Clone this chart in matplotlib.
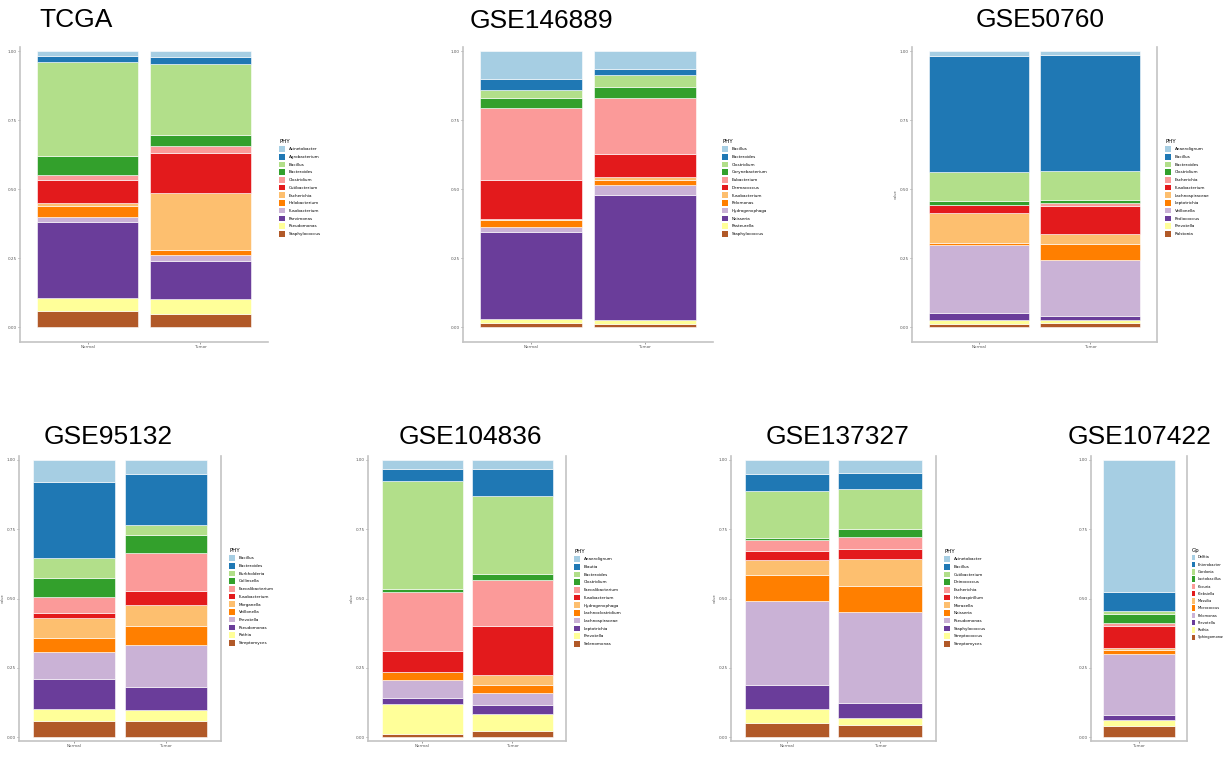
import matplotlib
matplotlib.use("Agg")
from matplotlib import pyplot as plt
from matplotlib.patches import Patch
import numpy as np

# RColorBrewer "Paired"
colors = ["#A6CEE3", "#1F78B4", "#B2DF8A", "#33A02C", "#FB9A99", "#E31A1C",
          "#FDBF6F", "#FF7F00", "#CAB2D6", "#6A3D9A", "#FFFF99", "#B15928"]

groups = ["Normal", "Tumor"]

# relative abundance, genus order = stacking order from top to bottom
tcga_genus = ["Acinetobacter", "Agrobacterium", "Bacillus", "Bacteroides", "Clostridium",
              "Cutibacterium", "Escherichia", "Halobacterium", "Fusobacterium",
              "Parvimonas", "Pseudomonas", "Staphylococcus"]
tcga_normal = [0.018, 0.023, 0.339, 0.068, 0.020, 0.081, 0.012, 0.042, 0.016, 0.276, 0.048, 0.057]
tcga_tumor = [0.020, 0.027, 0.256, 0.042, 0.025, 0.145, 0.207, 0.016, 0.023, 0.138, 0.053, 0.048]

gse146889_genus = ["Bacillus", "Bacteroides", "Clostridium", "Corynebacterium", "Eubacterium",
                   "Dermacoccus", "Fusobacterium", "Pelomonas", "Hydrogenophaga",
                   "Neisseria", "Pasteurella", "Staphylococcus"]
gse146889_normal = [0.103, 0.039, 0.030, 0.036, 0.261, 0.141, 0.003, 0.024, 0.018, 0.317, 0.012, 0.016]
gse146889_tumor = [0.063, 0.022, 0.045, 0.041, 0.201, 0.083, 0.012, 0.019, 0.036, 0.452, 0.014, 0.011]

gse50760_genus = ["Anaerolignum", "Bacillus", "Bacteroides", "Clostridium", "Escherichia",
                  "Fusobacterium", "Lachnospiraceae", "Leptotrichia", "Veillonella",
                  "Pediococcus", "Prevotella", "Ralstonia"]
gse50760_normal = [0.018, 0.421, 0.105, 0.012, 0.002, 0.029, 0.107, 0.007, 0.249, 0.024, 0.014, 0.012]
gse50760_tumor = [0.016, 0.417, 0.106, 0.012, 0.010, 0.101, 0.036, 0.060, 0.202, 0.014, 0.012, 0.014]

gse95132_genus = ["Bacillus", "Bacteroides", "Burkholderia", "Collinsella", "Faecalibacterium",
                  "Fusobacterium", "Morganella", "Veillonella", "Prevotella",
                  "Pseudomonas", "Rothia", "Streptomyces"]
gse95132_normal = [0.081, 0.274, 0.072, 0.066, 0.061, 0.017, 0.071, 0.050, 0.099, 0.108, 0.043, 0.058]
gse95132_tumor = [0.050, 0.183, 0.037, 0.067, 0.136, 0.049, 0.076, 0.070, 0.151, 0.082, 0.042, 0.057]

gse104836_genus = ["Anaerolignum", "Blautia", "Bacteroides", "Clostridium", "Faecalibacterium",
                   "Fusobacterium", "Hydrogenophaga", "Lachnoclostridium", "Lachnospiraceae",
                   "Leptotrichia", "Prevotella", "Selenomonas"]
gse104836_normal = [0.031, 0.045, 0.388, 0.012, 0.213, 0.076, 0.002, 0.029, 0.064, 0.020, 0.108, 0.012]
gse104836_tumor = [0.031, 0.099, 0.280, 0.024, 0.164, 0.178, 0.035, 0.029, 0.045, 0.033, 0.060, 0.022]

gse137327_genus = ["Acinetobacter", "Bacillus", "Cutibacterium", "Deinococcus", "Escherichia",
                   "Herbaspirillum", "Moraxella", "Neisseria", "Pseudomonas",
                   "Staphylococcus", "Streptococcus", "Streptomyces"]
gse137327_normal = [0.051, 0.060, 0.169, 0.008, 0.042, 0.031, 0.054, 0.093, 0.303, 0.087, 0.053, 0.049]
gse137327_tumor = [0.048, 0.057, 0.145, 0.028, 0.042, 0.039, 0.097, 0.094, 0.328, 0.052, 0.028, 0.042]

gse107422_genus = ["Delftia", "Enterobacter", "Gordonia", "Lactobacillus", "Kocuria",
                   "Klebsiella", "Massilia", "Micrococcus", "Pelomonas",
                   "Prevotella", "Rothia", "Sphingomonas"]
gse107422_tumor = [0.476, 0.069, 0.010, 0.034, 0.010, 0.080, 0.007, 0.015, 0.220, 0.017, 0.024, 0.038]

W, H = 1223, 759
fig = plt.figure(figsize=(W / 100, H / 100), dpi=100)
axis_grey = "#c4c4c4"


def px_axes(x0, x1, y0, y1):
    return fig.add_axes([x0 / W, 1 - y1 / H, (x1 - x0) / W, (y1 - y0) / H])


def stacked(rect, title, title_xy, genus, samples, sample_names, ylim, leg_xy,
            leg_title="PHY", box=False, ylab=False, small_leg=False):
    ax = px_axes(*rect)
    x = np.arange(1, len(samples) + 1)
    vals = np.array(samples)  # samples x genus
    bottom = np.zeros(len(samples))
    # ggplot stacks the first level on top, so draw from the last one up
    for j in range(len(genus) - 1, -1, -1):
        ax.bar(x, vals[:, j], width=0.9, bottom=bottom, color=colors[j],
               edgecolor="white", linewidth=0.4)
        bottom += vals[:, j]
    ax.set_xlim(0.4, len(samples) + 0.6)
    ax.set_ylim(*ylim)
    ax.set_xticks(x)
    ax.set_xticklabels(sample_names)
    ax.set_yticks([0, 0.25, 0.5, 0.75, 1.0])
    ax.set_yticklabels(["0.00", "0.25", "0.50", "0.75", "1.00"])
    ax.tick_params(labelsize=3, colors="#555555", length=1.5, width=0.4, pad=1)
    for s in ["top", "right"]:
        ax.spines[s].set_visible(False)
    if box:
        ax.spines["right"].set_visible(True)
    for s in ax.spines.values():
        s.set_color(axis_grey)
        s.set_linewidth(1.2)
    if ylab:
        ax.set_ylabel("value", fontsize=2.5, labelpad=1, color="#555555")
    fig.text(title_xy[0] / W, 1 - title_xy[1] / H, title, ha="center", va="center",
             fontsize=19, family="Liberation Sans")
    handles = [Patch(facecolor=c, edgecolor="none") for c in colors]
    fs = 2.6 if small_leg else 3
    ax.legend(handles, genus, title=leg_title, loc="upper left",
              bbox_to_anchor=(leg_xy[0] / W, 1 - leg_xy[1] / H),
              bbox_transform=fig.transFigure, frameon=False, borderpad=0,
              fontsize=fs, title_fontsize=4,
              handlelength=0.8 if small_leg else 1.5,
              handleheight=1.95 if small_leg else 1.7,
              labelspacing=0.5, handletextpad=0.8, alignment="left")
    return ax


top_ylim = (-0.054, 1.0145)
bot_ylim = (-0.0144, 1.0144)

stacked((20, 268, 47, 342), "TCGA", (76, 20), tcga_genus,
        [tcga_normal, tcga_tumor], groups, top_ylim, (277, 137))
stacked((463, 713, 47, 342), "GSE146889", (541, 21), gse146889_genus,
        [gse146889_normal, gse146889_tumor], groups, top_ylim, (720, 137))
stacked((912, 1157, 47, 342), "GSE50760", (1040, 20), gse50760_genus,
        [gse50760_normal, gse50760_tumor], groups, top_ylim, (1163, 137),
        box=True, ylab=True)

stacked((19, 221, 456, 741), "GSE95132", (108, 437), gse95132_genus,
        [gse95132_normal, gse95132_tumor], groups, bot_ylim, (227, 546),
        box=True, ylab=True)
stacked((368, 566, 456, 741), "GSE104836", (470, 437), gse104836_genus,
        [gse104836_normal, gse104836_tumor], groups, bot_ylim, (572, 547),
        box=True, ylab=True)
stacked((731, 936, 456, 741), "GSE137327", (838, 437), gse137327_genus,
        [gse137327_normal, gse137327_tumor], groups, bot_ylim, (942, 547),
        box=True, ylab=True)
stacked((1091, 1187, 456, 741), "GSE107422", (1140, 437), gse107422_genus,
        [gse107422_tumor], ["Tumor"], bot_ylim, (1190, 546),
        leg_title="Gp", box=True, small_leg=True)

fig.savefig("out.png", dpi=100)
